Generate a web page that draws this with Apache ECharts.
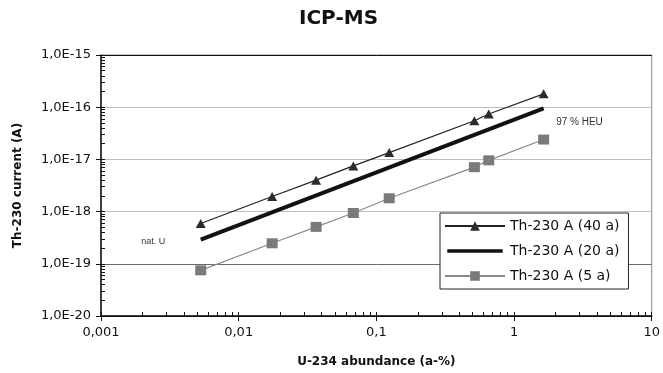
<!DOCTYPE html>
<html>
<head>
<meta charset="utf-8">
<script src="https://cdn.jsdelivr.net/npm/echarts@6/dist/echarts.min.js"></script>
<style>
  html, body { margin: 0; padding: 0; background: #fff; }
  #chart { width: 663px; height: 373px; }
</style>
</head>
<body>
<div id="chart"></div>
<script>
// U-234 abundance (a-%) of the samples
const abundance = [0.0053, 0.0175, 0.0365, 0.068, 0.124, 0.515, 0.655, 1.64];
// Th-230 current (A)
const th40 = [5.9e-19, 1.95e-18, 4.0e-18, 7.5e-18, 1.35e-17, 5.5e-17, 7.4e-17, 1.8e-16];
const th5 = [7.5e-20, 2.47e-19, 5.1e-19, 9.4e-19, 1.8e-18, 7.1e-18, 9.6e-18, 2.4e-17];
// the 20 a line has no markers, only its two ends are read
const th20Ends = [[0.0053, 2.9e-19], [1.64, 9.5e-17]];

const seriesNames = ['Th-230 A (40 a)', 'Th-230 A (20 a)', 'Th-230 A (5 a)'];
const xTickLabels = ['0,001', '0,01', '0,1', '1', '10'];
const yTickLabels = ['1,0E-20', '1,0E-19', '1,0E-18', '1,0E-17', '1,0E-16', '1,0E-15'];
const notes = ['nat. U', '97 % HEU'];

const X_MIN_EXP = -3, X_MAX_EXP = 1;
const Y_MIN_EXP = -20, Y_MAX_EXP = -15;

// log-spaced minor ticks, expressed as exponents for the helper value axes
function minorTicks(fromExp, toExp) {
  const out = [];
  for (let e = fromExp; e < toExp; e++) {
    for (let k = 1; k < 10; k++) out.push(e + Math.log10(k));
  }
  out.push(toExp);
  return out;
}

const font = 'DejaVu Sans';
const axisLine = { onZero: false, lineStyle: { color: '#111', width: 1.5 } };
// plain thick bar for the 20 a legend entry (empty lines at top/bottom keep it thin)
const thickLineIcon = 'path://M0,0L60,0ZM0,4.5H60V8.5H0ZM0,13L60,13Z';

const chart = echarts.init(document.getElementById('chart'));

chart.setOption({
  animation: false,
  backgroundColor: '#fff',
  title: {
    text: 'ICP-MS',
    left: 299,
    top: 9,
    padding: 0,
    textStyle: { fontFamily: font, fontWeight: 'bold', fontSize: 20, color: '#111' }
  },
  grid: {
    left: 101, right: 11, top: 55, bottom: 57,
    show: true, borderColor: '#888', borderWidth: 1
  },
  legend: {
    orient: 'vertical',
    left: 440,
    top: 213,
    padding: [6, 9, 6, 4],
    itemWidth: 60,
    itemHeight: 12,
    itemGap: 11,
    backgroundColor: '#fff',
    borderColor: '#222',
    borderWidth: 1,
    textStyle: { fontFamily: font, fontSize: 14, color: '#111' },
    data: [
      seriesNames[0],
      { name: seriesNames[1], icon: thickLineIcon },
      seriesNames[2]
    ]
  },
  xAxis: [
    {
      type: 'log',
      logBase: 10,
      min: Math.pow(10, X_MIN_EXP),
      max: Math.pow(10, X_MAX_EXP),
      position: 'bottom',
      name: 'U-234 abundance (a-%)',
      nameLocation: 'middle',
      nameGap: 40,
      nameTextStyle: { fontFamily: font, fontWeight: 'bold', fontSize: 12, color: '#111' },
      axisLine: axisLine,
      axisTick: { length: 5, lineStyle: { color: '#111' } },
      axisLabel: {
        margin: 10,
        fontFamily: font, fontSize: 13, color: '#111',
        formatter: v => xTickLabels[Math.round(Math.log10(v)) - X_MIN_EXP]
      },
      splitLine: { show: false }
    },
    {
      // minor ticks only
      type: 'value',
      min: X_MIN_EXP,
      max: X_MAX_EXP,
      position: 'bottom',
      axisLine: { show: false, onZero: false },
      axisLabel: { show: false },
      splitLine: { show: false },
      axisTick: {
        show: true, inside: true, length: 4,
        customValues: minorTicks(X_MIN_EXP, X_MAX_EXP),
        lineStyle: { color: '#111' }
      }
    }
  ],
  yAxis: [
    {
      type: 'log',
      logBase: 10,
      min: Math.pow(10, Y_MIN_EXP),
      max: Math.pow(10, Y_MAX_EXP),
      position: 'left',
      name: 'Th-230 current (A)',
      nameLocation: 'middle',
      nameGap: 77,
      nameTextStyle: { fontFamily: font, fontWeight: 'bold', fontSize: 12, color: '#111' },
      axisLine: axisLine,
      axisTick: { length: 5, lineStyle: { color: '#111' } },
      axisLabel: {
        margin: 10,
        fontFamily: font, fontSize: 13, color: '#111',
        formatter: v => yTickLabels[Math.round(Math.log10(v)) - Y_MIN_EXP]
      },
      splitLine: {
        show: true,
        lineStyle: {
          color: ['#111', '#6a6a6a', '#bdbdbd', '#bdbdbd', '#bdbdbd', '#888'],
          width: 1
        }
      }
    },
    {
      type: 'value',
      min: Y_MIN_EXP,
      max: Y_MAX_EXP,
      position: 'left',
      axisLine: { show: false, onZero: false },
      axisLabel: { show: false },
      splitLine: { show: false },
      axisTick: {
        show: true, inside: true, length: 4,
        customValues: minorTicks(Y_MIN_EXP, Y_MAX_EXP),
        lineStyle: { color: '#111' }
      }
    }
  ],
  series: [
    {
      name: seriesNames[0],
      type: 'line',
      symbol: 'triangle',
      symbolSize: [10, 9],
      lineStyle: { color: '#222', width: 1.2 },
      itemStyle: { color: '#2b2b2b' },
      data: abundance.map((x, i) => [x, th40[i]])
    },
    {
      name: seriesNames[1],
      type: 'line',
      symbol: 'none',
      lineStyle: { color: '#111', width: 4 },
      itemStyle: { color: '#111' },
      data: th20Ends,
      markPoint: {
        symbol: 'circle',
        symbolSize: 1,
        silent: true,
        itemStyle: { color: 'transparent' },
        label: { show: true, fontFamily: 'Liberation Sans', fontSize: 9, color: '#333' },
        data: [
          { coord: th20Ends[0], label: { formatter: notes[0], position: 'left', distance: 35, offset: [0, 2] } },
          { coord: th20Ends[1], label: { formatter: notes[1], position: 'right', distance: 12, offset: [0, 14], fontSize: 10 } }
        ]
      }
    },
    {
      name: seriesNames[2],
      type: 'line',
      symbol: 'rect',
      symbolSize: [11, 10],
      lineStyle: { color: '#8a8a8a', width: 1.2 },
      itemStyle: { color: '#7a7a7a' },
      data: abundance.map((x, i) => [x, th5[i]])
    }
  ]
});
</script>
</body>
</html>
